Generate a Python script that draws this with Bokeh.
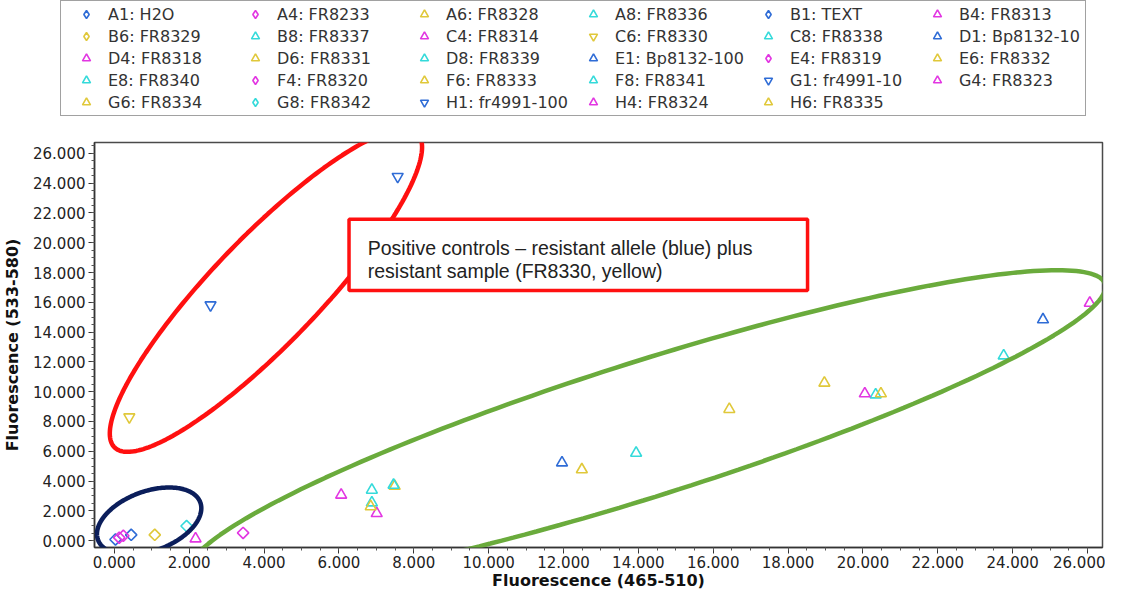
import numpy as np
from bokeh.plotting import figure
from bokeh.layouts import column
from bokeh.models import (Range1d, FixedTicker, NumeralTickFormatter, Legend, LegendItem,
                          PolyAnnotation, BoxAnnotation, Label)
from bokeh.embed import file_html
from bokeh.resources import INLINE

# ---------------- data ----------------
names = ["A1: H2O", "A4: FR8233", "A6: FR8328", "A8: FR8336", "B1: TEXT", "B4: FR8313",
         "B6: FR8329", "B8: FR8337", "C4: FR8314", "C6: FR8330", "C8: FR8338", "D1: Bp8132-10",
         "D4: FR8318", "D6: FR8331", "D8: FR8339", "E1: Bp8132-100", "E4: FR8319", "E6: FR8332",
         "E8: FR8340", "F4: FR8320", "F6: FR8333", "F8: FR8341", "G1: fr4991-10", "G4: FR8323",
         "G6: FR8334", "G8: FR8342", "H1: fr4991-100", "H4: FR8324", "H6: FR8335"]
shapes = ["dia", "dia", "tri", "tri", "dia", "tri",
          "dia", "tri", "tri", "inv", "tri", "tri",
          "tri", "tri", "tri", "tri", "dia", "tri",
          "tri", "dia", "tri", "tri", "inv", "tri",
          "tri", "dia", "inv", "tri", "tri"]
groups = ["blue", "magenta", "yellow", "cyan", "blue", "magenta",
          "yellow", "cyan", "magenta", "yellow", "cyan", "blue",
          "magenta", "yellow", "cyan", "blue", "magenta", "yellow",
          "cyan", "magenta", "yellow", "cyan", "blue", "magenta",
          "yellow", "cyan", "blue", "magenta", "yellow"]
fluor_465_510 = [0.03, 0.13, 7.49, 6.88, 0.45, 2.17,
                 1.08, 7.46, 6.06, 0.40, 6.88, 11.96,
                 7.01, 6.85, 13.94, 24.81, 0.24, 12.49,
                 20.34, 3.44, 16.43, 23.76, 2.57, 20.05,
                 18.97, 1.93, 7.57, 26.06, 20.48]
fluor_533_580 = [0.08, 0.20, 3.66, 3.40, 0.39, 0.13,
                 0.39, 3.73, 3.07, 8.30, 2.55, 5.23,
                 1.83, 2.29, 5.88, 14.84, 0.33, 4.77,
                 9.80, 0.52, 8.82, 12.42, 15.82, 9.87,
                 10.59, 0.98, 24.44, 15.95, 9.87]
axis_ticks = [0, 2, 4, 6, 8, 10, 12, 14, 16, 18, 20, 22, 24, 26]

palette = {"blue": "#2f6cd6", "magenta": "#e236e2", "cyan": "#34dada", "yellow": "#e0c83a"}


def plot_style(sh, gr):
    kw = dict(line_color=palette[gr], fill_color=None, line_width=1.6)
    if sh == "dia":
        kw.update(marker="square", angle=np.pi / 4, size=8)
    elif sh == "tri":
        kw.update(marker="triangle", size=11)
    else:
        kw.update(marker="inverted_triangle", size=11)
    return kw


def legend_style(sh, gr):
    m = {"dia": "diamond", "tri": "triangle", "inv": "inverted_triangle"}[sh]
    return dict(marker=m, line_color=palette[gr], fill_color=None, line_width=1.6, size=11)


def no_frame_align(fig):
    try:
        fig.frame_align = False
    except Exception:
        pass


# ---------------- main figure ----------------
X0, X1 = -0.53, 26.4
Y0, Y1 = -0.46, 26.73
W = 1105
LH = 126                 # legend strip height
H = 592 - LH             # main plot height
BL, BR, BT, BB = 84, 3, 16, 42

p = figure(width=W, height=H, output_backend="svg", toolbar_location=None,
           x_range=Range1d(X0, X1), y_range=Range1d(Y0, Y1),
           min_border_left=BL, min_border_right=BR, min_border_top=BT, min_border_bottom=BB,
           background_fill_color="white", border_fill_color="white")
no_frame_align(p)
p.xgrid.visible = False
p.ygrid.visible = False
p.outline_line_color = "#4a4a4a"
p.outline_line_width = 1.5

minor = [v / 2 for v in range(0, 54)]
for ax in (p.xaxis[0], p.yaxis[0]):
    ax.ticker = FixedTicker(ticks=axis_ticks, minor_ticks=minor)
    ax.formatter = NumeralTickFormatter(format="0.000")
    ax.major_label_text_font = "DejaVu Sans"
    ax.major_label_text_font_size = "15px"
    ax.major_label_text_color = "#222222"
    ax.axis_line_color = "#333333"
    ax.axis_line_width = 1.5
    ax.major_tick_line_color = "#333333"
    ax.minor_tick_line_color = "#555555"
    ax.major_tick_in = 0
    ax.major_tick_out = 6
    ax.minor_tick_in = 0
    ax.minor_tick_out = 3
    ax.axis_label_text_font = "DejaVu Sans"
    ax.axis_label_text_font_style = "bold"
    ax.axis_label_text_font_size = "16px"
    ax.axis_label_text_color = "#111111"
p.xaxis[0].axis_label = "Fluorescence (465-510)"
p.yaxis[0].axis_label = "Fluorescence (533-580)"
p.xaxis[0].major_label_standoff = 2
p.xaxis[0].axis_label_standoff = 0
p.yaxis[0].major_label_standoff = 3
p.yaxis[0].axis_label_standoff = 8

for sh, gr, xv, yv in zip(shapes, groups, fluor_465_510, fluor_533_580):
    p.scatter(x=[xv], y=[yv], **plot_style(sh, gr))

# ---------------- annotations (ellipses & text box) ----------------
fw = W - BL - BR
fh = H - BT - BB
sx = fw / (X1 - X0)
sy = fh / (Y1 - Y0)


def ellipse(cx, cy, a_px, b_px, ang_deg, n=240):
    t = np.linspace(0, 2 * np.pi, n, endpoint=False)
    th = np.deg2rad(ang_deg)
    ex, ey = a_px * np.cos(t), b_px * np.sin(t)
    dx = ex * np.cos(th) - ey * np.sin(th)
    dy = ex * np.sin(th) + ey * np.cos(th)
    return [float(v) for v in cx + dx / sx], [float(v) for v in cy + dy / sy]


for (cx, cy, a, b, ang, col) in [(4.05, 16.8, 220, 54, 46, "#ff1010"),
                                 (14.23, 7.52, 485, 68, 17.5, "#6aab3c"),
                                 (0.93, 1.31, 55, 30, 20, "#0b1e5b")]:
    xs, ys = ellipse(cx, cy, a, b, ang)
    p.add_layout(PolyAnnotation(xs=xs, ys=ys, fill_alpha=0, line_color=col,
                                line_width=4.5, line_alpha=1.0))

p.add_layout(BoxAnnotation(left=6.27, right=18.52, top=21.57, bottom=16.80,
                           fill_color="white", fill_alpha=1.0,
                           line_color="#ff1010", line_width=3.5, line_alpha=1.0))
for txt, yy in [("Positive controls \u2013 resistant allele (blue) plus", 19.65),
                ("resistant sample (FR8330, yellow)", 18.1)]:
    p.add_layout(Label(x=6.77, y=yy, text=txt, text_font="Liberation Sans",
                       text_font_size="19.5px", text_color="#222222",
                       text_baseline="alphabetic"))

# ---------------- legend strip ----------------
lg = figure(frame_width=W, frame_height=LH, output_backend="svg", toolbar_location=None,
            x_axis_type=None, y_axis_type=None,
            x_range=Range1d(100, 101), y_range=Range1d(100, 101),
            min_border_left=0, min_border_right=0, min_border_top=0, min_border_bottom=0,
            background_fill_color="white", border_fill_color="white")
no_frame_align(lg)
lg.outline_line_color = None
lg.xgrid.visible = False
lg.ygrid.visible = False

items = []
for nm, sh, gr, xv, yv in zip(names, shapes, groups, fluor_465_510, fluor_533_580):
    r = lg.scatter(x=[xv], y=[yv], **legend_style(sh, gr))
    items.append(LegendItem(label=nm, renderers=[r]))

LEG_H = 114
legend = Legend(items=items, orientation="horizontal", nrows=5, ncols=6,
                location=(60, LH - LEG_H - 2), margin=0, padding=3, spacing=2,
                glyph_width=44, glyph_height=20, label_standoff=0,
                label_width=123, label_height=20,
                label_text_font="DejaVu Sans", label_text_font_size="16px",
                label_text_color="#333333",
                border_line_color="#444444", border_line_width=1.5,
                background_fill_color="white", background_fill_alpha=1.0)
lg.add_layout(legend, "center")

layout = column(lg, p, spacing=0)
open("out.html", "w").write(file_html(layout, INLINE))
